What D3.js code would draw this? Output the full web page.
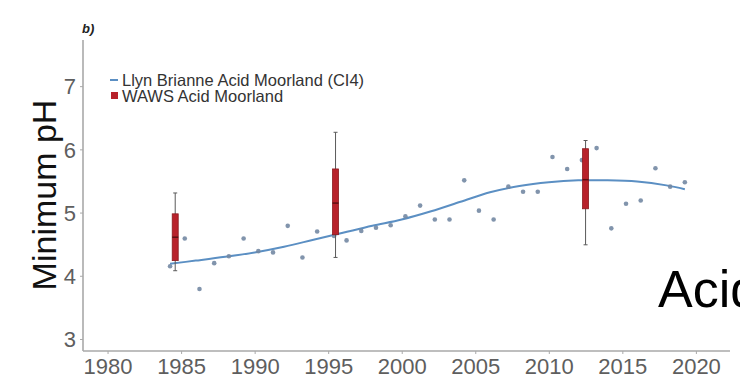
<!DOCTYPE html>
<html>
<head>
<meta charset="utf-8">
<script src="https://cdn.jsdelivr.net/npm/d3@7"></script>
<style>
  html, body { margin: 0; padding: 0; background: #fff; }
  svg { display: block; font-family: "Liberation Sans", Arial, sans-serif; }
</style>
</head>
<body>
<svg id="chart" width="740" height="390"></svg>
<script>
// Llyn Brianne CI4 catchment: yearly minimum pH
const lbYears = [1984.25, 1985.25, 1986.25, 1987.25, 1988.25, 1989.25, 1990.25, 1991.25,
  1992.25, 1993.25, 1994.25, 1995.4, 1996.25, 1997.25, 1998.25, 1999.25, 2000.25,
  2001.25, 2002.25, 2003.25, 2004.25, 2005.25, 2006.25, 2007.25, 2008.25, 2009.25,
  2010.25, 2011.25, 2012.25, 2013.25, 2014.25, 2015.25, 2016.25, 2017.25, 2018.25, 2019.25];
const lbMinPH = [4.15, 4.59, 3.79, 4.20, 4.31, 4.59, 4.39, 4.37,
  4.79, 4.29, 4.70, 4.63, 4.56, 4.71, 4.76, 4.80, 4.94,
  5.11, 4.89, 4.89, 5.51, 5.03, 4.89, 5.41, 5.33, 5.33,
  5.88, 5.69, 5.83, 6.02, 4.75, 5.14, 5.19, 5.70, 5.41, 5.48];

// Smoothed trend through the Llyn Brianne series
const smoothYears = [1984.25, 1986, 1988, 1990, 1992, 1994, 1996, 1998, 2000, 2002,
  2004, 2006, 2008, 2010, 2012, 2014, 2016, 2018, 2019.25];
const smoothPH = [4.19, 4.24, 4.30, 4.37, 4.46, 4.57, 4.68, 4.79, 4.89, 5.02,
  5.17, 5.32, 5.42, 5.48, 5.51, 5.51, 5.49, 5.43, 5.37];

// WAWS acid moorland sites, minimum pH summaries per survey
const wawsYears = [1984.6, 1995.5, 2012.5];
const wawsMin = [4.08, 4.29, 4.49];
const wawsQ1 = [4.24, 4.65, 5.06];
const wawsMedian = [4.61, 5.15, 5.52];
const wawsQ3 = [4.98, 5.69, 6.01];
const wawsMax = [5.31, 6.27, 6.14];

const xTicks = [1980, 1985, 1990, 1995, 2000, 2005, 2010, 2015, 2020];
const yTicks = [3, 4, 5, 6, 7];

const svg = d3.select("#chart");
const plot = { left: 83, right: 730, top: 40, bottom: 351 };

const x = d3.scaleLinear().domain([1978.33, 2022.32]).range([plot.left, plot.right]);
const y = d3.scaleLinear().domain([2.81, 7.73]).range([plot.bottom, plot.top]);

const axisColor = "#a9a9a9";
const tickText = "#5e5e5e";

// Y axis
const yAxis = svg.append("g")
  .attr("transform", `translate(${plot.left},0)`)
  .call(d3.axisLeft(y).tickValues(yTicks).tickSize(3).tickPadding(4).tickFormat(d3.format("d")));
yAxis.select(".domain").attr("d", `M0,${plot.top}V${plot.bottom}`)
  .attr("stroke", axisColor).attr("stroke-width", 1.6);
yAxis.selectAll(".tick line").attr("stroke", axisColor);
yAxis.selectAll(".tick text").attr("fill", tickText)
  .style("font-size", "22px").attr("dy", "0.35em");

// X axis
const xAxis = svg.append("g")
  .attr("transform", `translate(0,${plot.bottom})`)
  .call(d3.axisBottom(x).tickValues(xTicks).tickSize(3).tickPadding(4).tickFormat(d3.format("d")));
xAxis.select(".domain").attr("d", `M${plot.left},0H${plot.right}`)
  .attr("stroke", axisColor).attr("stroke-width", 1.6);
xAxis.selectAll(".tick line").attr("stroke", axisColor);
xAxis.selectAll(".tick text").attr("fill", tickText)
  .style("font-size", "22px");

// Y axis title
svg.append("text")
  .attr("transform", `translate(56,${(100 + 290) / 2}) rotate(-90)`)
  .attr("text-anchor", "middle")
  .attr("fill", "#111")
  .style("font-size", "34px")
  .text("Minimum pH");

// Panel tag
svg.append("text")
  .attr("x", 82).attr("y", 33)
  .attr("fill", "#222")
  .style("font-size", "13px").style("font-weight", "bold").style("font-style", "italic")
  .text("b)");

// Trend line
const lineGen = d3.line().x((d, i) => x(smoothYears[i])).y(d => y(d)).curve(d3.curveCatmullRom.alpha(0.5));
svg.append("path")
  .attr("d", lineGen(smoothPH))
  .attr("fill", "none")
  .attr("stroke", "#5b8fc3")
  .attr("stroke-width", 2);

// Yearly points
svg.append("g").selectAll("circle")
  .data(lbMinPH)
  .join("circle")
  .attr("cx", (d, i) => x(lbYears[i]))
  .attr("cy", d => y(d))
  .attr("r", 2.3)
  .attr("fill", "#7388a3")
  .attr("opacity", 0.9);

// Box plots
const boxW = 6, capW = 4;
const boxes = svg.append("g").selectAll("g")
  .data(wawsYears)
  .join("g");
boxes.append("line")
  .attr("x1", d => x(d)).attr("x2", d => x(d))
  .attr("y1", (d, i) => y(wawsMax[i])).attr("y2", (d, i) => y(wawsMin[i]))
  .attr("stroke", "#5a5a5a").attr("stroke-width", 1);
boxes.append("line")
  .attr("x1", d => x(d) - capW / 2).attr("x2", d => x(d) + capW / 2)
  .attr("y1", (d, i) => y(wawsMax[i])).attr("y2", (d, i) => y(wawsMax[i]))
  .attr("stroke", "#5a5a5a").attr("stroke-width", 1);
boxes.append("line")
  .attr("x1", d => x(d) - capW / 2).attr("x2", d => x(d) + capW / 2)
  .attr("y1", (d, i) => y(wawsMin[i])).attr("y2", (d, i) => y(wawsMin[i]))
  .attr("stroke", "#5a5a5a").attr("stroke-width", 1);
boxes.append("rect")
  .attr("x", d => x(d) - boxW / 2)
  .attr("width", boxW)
  .attr("y", (d, i) => y(wawsQ3[i]))
  .attr("height", (d, i) => y(wawsQ1[i]) - y(wawsQ3[i]))
  .attr("fill", "#b8222b")
  .attr("stroke", "#8a1a1f").attr("stroke-width", 0.8);
boxes.append("line")
  .attr("x1", d => x(d) - boxW / 2).attr("x2", d => x(d) + boxW / 2)
  .attr("y1", (d, i) => y(wawsMedian[i])).attr("y2", (d, i) => y(wawsMedian[i]))
  .attr("stroke", "#5c0f12").attr("stroke-width", 1.5);

// Legend
const legend = svg.append("g");
legend.append("line")
  .attr("x1", 110).attr("x2", 118).attr("y1", 80).attr("y2", 80)
  .attr("stroke", "#5b8fc3").attr("stroke-width", 2);
legend.append("rect")
  .attr("x", 111).attr("y", 92).attr("width", 7).attr("height", 7)
  .attr("fill", "#b8222b");
legend.append("text")
  .attr("x", 122).attr("y", 85.5)
  .attr("fill", "#333").style("font-size", "16.5px")
  .text("Llyn Brianne Acid Moorland (CI4)");
legend.append("text")
  .attr("x", 122).attr("y", 102)
  .attr("fill", "#333").style("font-size", "16.5px")
  .text("WAWS Acid Moorland");

// Title of the neighbouring panel, running off the right edge
svg.append("text")
  .attr("x", 658).attr("y", 307)
  .attr("fill", "#000")
  .style("font-size", "52px")
  .text("Acid");
</script>
</body>
</html>
